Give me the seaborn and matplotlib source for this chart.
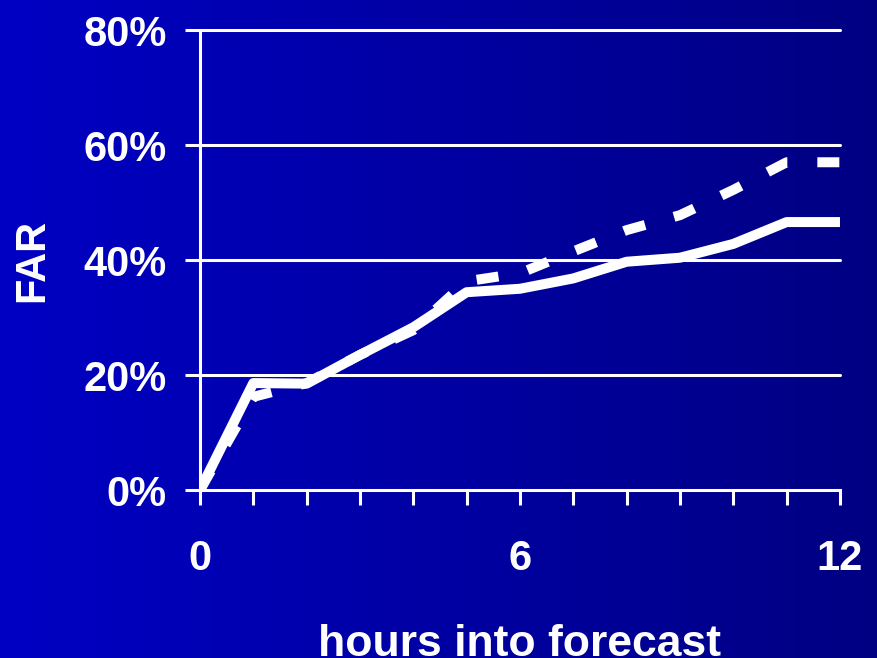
import numpy as np
import pandas as pd
import matplotlib
matplotlib.use('Agg')
import matplotlib.pyplot as plt
import seaborn as sns
from matplotlib.colors import LinearSegmentedColormap

# data (FAR in %)
hours = list(range(13))
far_solid = [0, 18.6, 18.5, 23.5, 28.3, 34.4, 35.0, 36.8, 39.7, 40.4, 42.8, 46.6, 46.6]
far_dashed = [0, 16.2, 18.6, 23.5, 27.8, 36.3, 37.7, 41.5, 45.2, 47.8, 52.2, 57.0, 57.0]
xtick_labels = ['0', '6', '12']
ytick_values = [0, 20, 40, 60, 80]

df = pd.DataFrame({
    'hour': hours * 2,
    'far': far_solid + far_dashed,
    'series': ['solid'] * len(hours) + ['dashed'] * len(hours),
})

sns.set_style('white')
plt.rcParams['font.family'] = ['Liberation Sans', 'DejaVu Sans']
plt.rcParams['font.weight'] = 'bold'

fig = plt.figure(figsize=(8.78, 6.58), dpi=100)

# blue gradient background
bg = fig.add_axes([0, 0, 1, 1], zorder=-10)
cmap = LinearSegmentedColormap.from_list('bg', ['#0000c4', '#000082'])
grad = np.linspace(0, 1, 256).reshape(1, -1)
bg.imshow(grad, aspect='auto', cmap=cmap, extent=[0, 1, 0, 1])
bg.axis('off')

ax = fig.add_axes([0.2278, 0.2553, 0.7289, 0.6991])
ax.patch.set_alpha(0)

sns.lineplot(data=df, x='hour', y='far', style='series', ax=ax,
             color='white', linewidth=7.2, legend=False,
             dashes={'solid': '', 'dashed': (2.2, 3.0)},
             solid_capstyle='butt', dash_capstyle='butt', zorder=5)

ax.set_xlim(0, 12)
ax.set_ylim(0, 80)
ax.set_yticks(ytick_values)
ax.set_yticklabels([f'{v}%' for v in ytick_values])
ax.set_xticks(hours, minor=True)
ax.set_xticks([0, 6, 12])
ax.set_xticklabels(xtick_labels)

for v in ytick_values[1:]:
    ax.axhline(v, color='white', lw=2.2, zorder=1, clip_on=False)

for s in ['top', 'right']:
    ax.spines[s].set_visible(False)
for s in ['left', 'bottom']:
    ax.spines[s].set_color('white')
    ax.spines[s].set_linewidth(2.2)

ax.tick_params(axis='y', which='both', left=True, colors='white', labelsize=30,
               length=11, width=2.2, direction='out', pad=13)
ax.tick_params(axis='x', which='both', bottom=True, colors='white', length=11,
               width=2.2, direction='out')
ax.tick_params(axis='x', which='major', labelsize=30, pad=24)
for lbl in ax.get_xticklabels() + ax.get_yticklabels():
    lbl.set_fontweight('bold')

ax.set_xlabel('hours into forecast', color='white', fontsize=32,
              fontweight='bold', labelpad=33)
ax.set_ylabel('FAR', color='white', fontsize=30, fontweight='bold', labelpad=22)

fig.savefig('out.png', dpi=100)
